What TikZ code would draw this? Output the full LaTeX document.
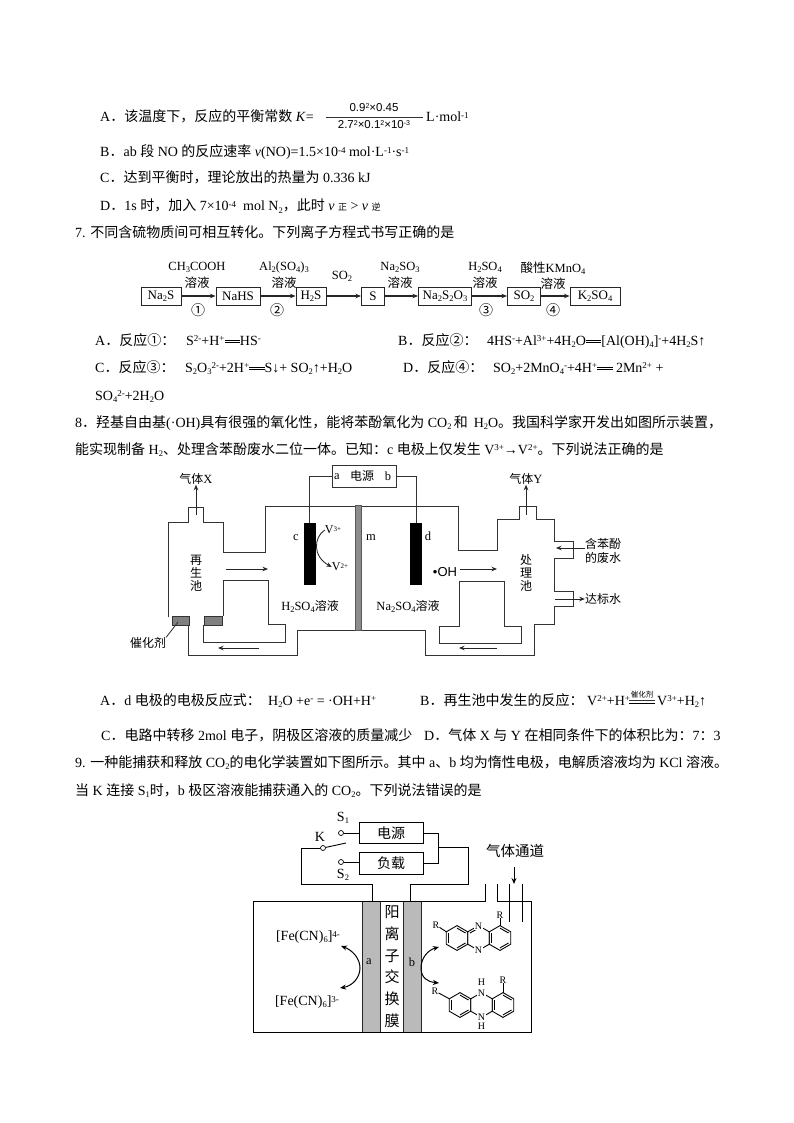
\documentclass[tikz,border=0pt]{standalone}
\usepackage{fontspec}
\setmainfont{Liberation Serif}
\newfontfamily\cjk{Noto Sans CJK SC}
\newfontfamily\ssf{Liberation Sans}
\usetikzlibrary{arrows.meta,calc}
\newcommand\up[1]{\raisebox{.5ex}{\fontsize{9}{9}\selectfont #1}}
\newcommand\dn[1]{\raisebox{-.35ex}{\fontsize{8.5}{9}\selectfont #1}}
\newcommand\zz[1]{{\cjk #1}}
\newcommand\dbl{\mbox{\rule[.16em]{1.1em}{.5pt}\llap{\rule[.34em]{1.1em}{.5pt}}}}
\newcommand\tl[4]{\node[txt] (#1) at (#2,{#3+5}) {#4};}
\newcommand\tc[4]{\node[ctr] (#1) at (#2,{#3}) {#4};}
\newcommand\hexring[2]{\draw[wireb,line join=round] ({#1+12.4*cos(30)},{#2+12.4*sin(30)}) -- ({#1+12.4*cos(90)},{#2+12.4*sin(90)}) -- ({#1+12.4*cos(150)},{#2+12.4*sin(150)}) -- ({#1+12.4*cos(210)},{#2+12.4*sin(210)}) -- ({#1+12.4*cos(270)},{#2+12.4*sin(270)}) -- ({#1+12.4*cos(330)},{#2+12.4*sin(330)}) -- cycle;}
\newcommand\inbond[3]{\draw[wireb] ({#1+9.9*cos(#3)},{#2+9.9*sin(#3)}) -- ({#1+9.9*cos(#3+60)},{#2+9.9*sin(#3+60)});}
\tikzset{
  x=1pt,y=-1pt,
  txt/.style={inner sep=0pt,anchor=base west,font=\fontsize{14}{16}\selectfont},
  ctr/.style={inner sep=0pt,anchor=center,align=center,font=\fontsize{12.5}{15}\selectfont},
  chembox/.style={draw=black!85,line width=1pt,inner sep=0pt,minimum height=18pt,font=\fontsize{13}{15}\selectfont},
  wire/.style={draw=black!80,line width=.85pt},
  wireb/.style={draw=black,line width=.9pt},
  arr/.style={draw=black!85,line width=.85pt,-{Stealth[length=5.5pt,width=4.5pt]}},
  arrb/.style={draw=black,line width=1pt,-{Stealth[length=6pt,width=5pt]}},
  membrane/.style={draw=black!65,fill=black!45,line width=.4pt},
  electrode/.style={draw=black!85,fill=black!27,line width=.8pt},
  pole/.style={fill=black,draw=black},
  cat/.style={draw=black!80,fill=black!50,line width=.8pt},
  term/.style={circle,draw=black,fill=white,inner sep=0pt,minimum size=5pt,line width=.7pt},
}
\begin{document}
\begin{tikzpicture}
\useasboundingbox (0,0) rectangle (794,1123);
\fill[white] (0,0) rectangle (794,1123);
% ---- question 6 options
\tl{a1}{100}{117}{A\zz{．该温度下，反应的平衡常数} \textit{K}=}
\node[ctr,font=\fontsize{11.5}{13}\selectfont\ssf] (num) at (374,108) {0.9\raisebox{.5ex}{\fontsize{7}{7}\selectfont 2}×0.45};
\node[ctr,font=\fontsize{11.5}{13}\selectfont\ssf] (den) at (374,125) {2.7\raisebox{.5ex}{\fontsize{7}{7}\selectfont 2}×0.1\raisebox{.5ex}{\fontsize{7}{7}\selectfont 2}×10\raisebox{.5ex}{\fontsize{7}{7}\selectfont -3}};
\draw[wire] (326,117) -- (423,117);
\tl{a1u}{426}{117}{L·mol\up{-1}}
\tl{b1}{100}{152}{B\zz{．}ab \zz{段} NO \zz{的反应速率} \textit{v}(NO)=1.5×10\up{-4} mol·L\up{-1}·s\up{-1}}
\tl{c1}{100}{178}{C\zz{．达到平衡时，理论放出的热量为} 0.336 kJ}
\tl{d1}{100}{206}{D\zz{．}1s \zz{时，加入} 7×10\up{-4}\ \ mol N\dn{2}\zz{，此时} \textit{v} \zz{\fontsize{9}{9}\selectfont 正} > \textit{v} \zz{\fontsize{9}{9}\selectfont 逆}}
\tl{q7}{75}{232}{7. \zz{不同含硫物质间可相互转化。下列离子方程式书写正确的是}}
% ---- reaction chain
\node[chembox,minimum width=40pt] (na2s) at (161,296) {Na\dn{2}S};
\node[chembox,minimum width=44pt] (nahs) at (238,296) {NaHS};
\node[chembox,minimum width=30pt] (h2s) at (311,296) {H\dn{2}S};
\node[chembox,minimum width=23pt] (s) at (373,296) {S};
\node[chembox,minimum width=53pt] (na2s2o3) at (445,296) {Na\dn{2}S\dn{2}O\dn{3}};
\node[chembox,minimum width=33pt] (so2) at (524,296) {SO\dn{2}};
\node[chembox,minimum width=50pt] (k2so4) at (595,296) {K\dn{2}SO\dn{4}};
\foreach \p/\q in {na2s/nahs,nahs/h2s,h2s/s,s/na2s2o3,na2s2o3/so2,so2/k2so4}{\draw[arr,line width=1.2pt] (\p) -- (\q);}
\tc{l1}{197}{267}{CH\dn{3}COOH}
\tc{l1b}{197}{283}{\zz{溶液}}
\tc{l2}{284}{267}{Al\dn{2}(SO\dn{4})\dn{3}}
\tc{l2b}{284}{283}{\zz{溶液}}
\tc{l3}{342}{276}{SO\dn{2}}
\tc{l4}{400}{267}{Na\dn{2}SO\dn{3}}
\tc{l4b}{400}{283}{\zz{溶液}}
\tc{l5}{485}{267}{H\dn{2}SO\dn{4}}
\tc{l5b}{485}{283}{\zz{溶液}}
\tc{l6}{553}{268}{\zz{酸性}KMnO\dn{4}}
\tc{l6b}{553}{284}{\zz{溶液}}
\tc{n1}{198}{310}{\zz{\fontsize{14}{15}\selectfont ①}}
\tc{n2}{277}{310}{\zz{\fontsize{14}{15}\selectfont ②}}
\tc{n3}{486}{310}{\zz{\fontsize{14}{15}\selectfont ③}}
\tc{n4}{553}{310}{\zz{\fontsize{14}{15}\selectfont ④}}
% ---- q7 options
\tl{a7}{95}{340}{A\zz{．反应①：}}
\tl{a7f}{186}{340}{S\up{2-}+H\up{+}\dbl HS\up{-}}
\tl{b7}{398}{340}{B\zz{．反应②：}}
\tl{b7f}{487}{340}{4HS\up{-}+Al\up{3+}+4H\dn{2}O\dbl[Al(OH)\dn{4}]\up{-}+4H\dn{2}S↑}
\tl{c7}{95}{367}{C\zz{．反应③：}}
\tl{c7f}{185}{367}{S\dn{2}O\dn{3}\up{2-}+2H\up{+}\dbl S↓+ SO\dn{2}↑+H\dn{2}O}
\tl{d7}{403}{367}{D\zz{．反应④：}}
\tl{d7f}{493}{367}{SO\dn{2}+2MnO\dn{4}\up{-}+4H\up{+}\dbl\ 2Mn\up{2+} +}
\tl{d7g}{95}{395}{SO\dn{4}\up{2-}+2H\dn{2}O}
\tl{q8}{75}{422}{8\zz{．羟基自由基}(·OH)\zz{具有很强的氧化性，能将苯酚氧化为} CO\dn{2}\,\zz{和}\, H\dn{2}O\zz{。我国科学家开发出如图所示装置，}}
\tl{q8b}{75}{449}{\zz{能实现制备} H\dn{2}\zz{、处理含苯酚废水二位一体。已知：}c \zz{电极上仅发生} V\up{3+}→V\up{2+}\zz{。下列说法正确的是}}
% ---- electrolysis apparatus
\draw[wire,line join=miter] (168,617) -- (168,522) -- (188,522) -- (188,507) -- (203,507) -- (203,522) -- (223,522) -- (223,552) -- (265,552) -- (265,506) -- (458,506) -- (458,550) -- (497,550) -- (497,519) -- (519,519) -- (519,506) -- (536,506) -- (536,519) -- (554,519) -- (554,541) -- (573,541) -- (573,558) -- (554,558) -- (554,591) -- (573,591) -- (573,606) -- (554,606) -- (554,624) -- (534,624) -- (534,655) -- (425,655) -- (425,630) -- (297,630) -- (297,655) -- (188,655) -- (188,625);
\draw[wire,line join=miter] (223,616) -- (223,580) -- (268,580) -- (268,624) -- (285,624) -- (285,642) -- (203,642) -- (203,625);
\draw[wire,line join=miter] (459,626) -- (459,581) -- (504,581) -- (504,626) -- (521,626) -- (521,643) -- (439,643) -- (439,626) -- cycle;
\draw[cat] (172,616) rectangle (189,625);
\draw[cat] (204,616) rectangle (222,625);
\draw[membrane] (355,505) rectangle (361,630);
\node[draw=black!80,line width=.85pt,minimum width=64pt,minimum height=22pt,inner sep=0pt] (pw) at (364,476) {};
\node[pole,minimum width=11pt,minimum height=61pt,inner sep=0pt] (ec) at (309.5,553.5) {};
\node[pole,minimum width=11pt,minimum height=61pt,inner sep=0pt] (ed) at (416,553.5) {};
\draw[wire] (pw.west) -| (ec.north);
\draw[wire] (pw.east) -| (ed.north);
\tc{pa}{337}{477}{a}
\tc{pt}{362}{476}{\zz{\fontsize{12}{13}\selectfont 电源}}
\tc{pb}{388}{476}{b}
\tc{lc}{296}{538}{c}
\tc{lm}{371}{538}{m}
\tc{ld}{428}{536}{d}
\node[ctr,font=\fontsize{12}{13}\selectfont] (v3) at (333,530) {V\raisebox{.5ex}{\fontsize{7}{7}\selectfont 3+}};
\node[ctr,font=\fontsize{12}{13}\selectfont] (v2) at (340,567) {V\raisebox{.5ex}{\fontsize{7}{7}\selectfont 2+}};
\draw[arr] (v3.west) .. controls (314,537) and (312,556) .. (v2.west);
\coordinate (xa) at (196,515); \coordinate (ya) at (526,515);
\tc{gx}{196}{479}{\zz{\fontsize{12}{13}\selectfont 气体}X}
\tc{gy}{526}{479}{\zz{\fontsize{12}{13}\selectfont 气体}Y}
\draw[arr] (xa) -- (gx.south);
\draw[arr] (ya) -- (gy.south);
\node[ctr,font=\fontsize{12}{13}\selectfont\cjk] (zs) at (196,573) {再\\生\\池};
\node[ctr,font=\fontsize{12}{13}\selectfont\cjk] (cl) at (526,573) {处\\理\\池};
\tc{hs}{310}{606}{H\dn{2}SO\dn{4}\zz{\fontsize{12}{13}\selectfont 溶液}}
\tc{nas}{408}{606}{Na\dn{2}SO\dn{4}\zz{\fontsize{12}{13}\selectfont 溶液}}
\node[ctr,font=\fontsize{12}{13}\selectfont\cjk] (ch) at (148,643) {催化剂};
\coordinate (catp) at (178,622);
\draw[wire] (ch.north east) -- (catp);
\node[ctr,font=\fontsize{12}{14}\selectfont\cjk] (fs) at (603,551) {含苯酚\\的废水};
\node[ctr,font=\fontsize{12}{13}\selectfont\cjk] (db) at (603,599) {达标水};
\coordinate (fi) at (556,548); \coordinate (do) at (555,599);
\draw[arr] (fs.west |- fi) -- (fi);
\draw[arr] (do) -- (db.west);
\node[ctr,font=\fontsize{13}{15}\selectfont\ssf] (oh) at (445,572) {•OH};
\coordinate (f1a) at (226,569); \coordinate (f1b) at (268,569);
\coordinate (f2b) at (497,569);
\coordinate (f3a) at (259,648); \coordinate (f3b) at (218,648);
\coordinate (f4a) at (497,648); \coordinate (f4b) at (459,648);
\draw[arr] (f1a) -- (f1b);
\draw[arr] (oh.east) ++(3,-3) -- (f2b);
\draw[arr] (f3a) -- (f3b);
\draw[arr] (f4a) -- (f4b);
% ---- q8 options
\tl{a8}{100}{700}{A\zz{．}d \zz{电极的电极反应式：}}
\tl{a8f}{268}{700}{H\dn{2}O +e\up{-} = ·OH+H\up{+}}
\tl{b8}{420}{700}{B\zz{．再生池中发生的反应：}}
\tl{b8f}{587}{700}{V\up{2+}+H\up{+}}
\node[ctr,font=\fontsize{7.5}{8}\selectfont\cjk] (cj) at (642,695) {催化剂};
\node[inner sep=0pt,anchor=center] (ceq) at (642,703) {\rule{26pt}{.5pt}};
\draw[wire,line width=.5pt] (629,700.5) -- (655,700.5);
\tl{b8g}{657}{700}{V\up{3+}+H\dn{2}↑}
\tl{c8}{101}{735}{C\zz{．电路中转移} 2mol \zz{电子，阴极区溶液的质量减少}}
\tl{d8}{424}{735}{D\zz{．气体} X \zz{与} Y \zz{在相同条件下的体积比为：}7\zz{：}3}
\tl{q9}{75}{762}{9. \zz{一种能捕获和释放} CO\dn{2}\zz{的电化学装置如下图所示。其中} a\zz{、}b \zz{均为惰性电极，电解质溶液均为} KCl \zz{溶液。}}
\tl{q9b}{75}{790}{\zz{当} K \zz{连接} S\dn{1}\zz{时，}b \zz{极区溶液能捕获通入的} CO\dn{2}\zz{。下列说法错误的是}}
% ---- CO2 device
\node[draw=black,line width=.9pt,minimum width=64pt,minimum height=21pt,inner sep=0pt,font=\fontsize{14}{15}\selectfont\cjk] (dy) at (391,833) {电源};
\node[draw=black,line width=.9pt,minimum width=64pt,minimum height=22pt,inner sep=0pt,font=\fontsize{14}{15}\selectfont\cjk] (fz) at (391,863) {负载};
\node[term] (s1) at (341,833) {};
\node[term] (s2) at (341,862) {};
\node[term] (k) at (323,848) {};
\node[ctr,font=\fontsize{14}{15}\selectfont] (ls1) at (343,818) {S\dn{1}};
\node[ctr,font=\fontsize{14}{15}\selectfont] (ls2) at (343,875) {S\dn{2}};
\node[ctr,font=\fontsize{14}{15}\selectfont] (lk) at (320,837) {K};
\draw[wireb] (s1) -- (dy.west |- s1);
\draw[wireb] (s2) -- (fz.west |- s2);
\coordinate (blade) at (346,843);
\draw[wireb] (k) -- (blade);
% tank
\draw[electrode] (362,901) rectangle (380,1032);
\draw[electrode] (403,901) rectangle (421,1032);
\draw[wireb,line join=miter] (485,884) -- (485,901) -- (253,901) -- (253,1032) -- (531,1032) -- (531,901) -- (497,901) -- (497,884);
\draw[wireb] (509,884) -- (509,922);
\draw[wireb] (522,884) -- (522,922);
\coordinate (ta) at (372,901); \coordinate (tb) at (410,901);
\draw[wireb] (k) -| (301,884) -| (ta);
\draw[wireb] (dy.east) -| (438,863) -- (fz.east |- 438,863);
\draw[wireb] (438,847) -| (468,884) -| (tb);
\tc{gt}{515}{851}{\zz{\fontsize{14.5}{15}\selectfont 气体通道}}
\coordinate (gte) at (514,884);
\draw[arrb] (514,867) -- (gte);
\node[ctr,font=\fontsize{15}{21.8}\selectfont\cjk] (ms) at (392,966.5) {阳\\离\\子\\交\\换\\膜};
\tc{la}{369}{962}{a}
\tc{lb}{412}{962}{b}
\tc{fe4}{308}{937}{{\fontsize{14}{15}\selectfont [Fe(CN)\dn{6}]}\up{4-}}
\tc{fe3}{307}{1002}{{\fontsize{14}{15}\selectfont [Fe(CN)\dn{6}]}\up{3-}}
\draw[arrb] (360,968) .. controls (360,958) and (352,950) .. (341,946);
\draw[arrb] (360,968) .. controls (360,978) and (352,986) .. (340,988);
\draw[arrb] (421,968) .. controls (421,958) and (428,950) .. (439,947);
\draw[arrb] (421,968) .. controls (421,978) and (428,982) .. (439,983);
% top molecule
\hexring{457}{938}\hexring{478.5}{938}\hexring{500}{938}
\inbond{457}{938}{150}\inbond{457}{938}{270}\inbond{457}{938}{30}
\inbond{500}{938}{150}\inbond{500}{938}{270}\inbond{500}{938}{30}
\inbond{478.5}{938}{210}
\node[fill=white,inner sep=.4pt,font=\fontsize{10}{10}\selectfont] (n1t) at (478.5,926) {N};
\node[fill=white,inner sep=.4pt,font=\fontsize{10}{10}\selectfont] (n1b) at (478.5,950) {N};
\node[inner sep=0pt,font=\fontsize{10}{10}\selectfont] (r1) at (500,915) {R};
\node[inner sep=0pt,font=\fontsize{10}{10}\selectfont] (r2) at (436,925) {R};
\draw[wireb] (r1) -- (500,925.6);
\draw[wireb] (r2) -- (446.3,931.8);
% bottom molecule
\hexring{460}{1005}\hexring{481.5}{1005}\hexring{503}{1005}
\inbond{460}{1005}{150}\inbond{460}{1005}{270}\inbond{460}{1005}{30}
\inbond{503}{1005}{150}\inbond{503}{1005}{270}\inbond{503}{1005}{30}
\node[fill=white,inner sep=.4pt,font=\fontsize{10}{10}\selectfont] (n2t) at (481.5,993) {N};
\node[fill=white,inner sep=.4pt,font=\fontsize{10}{10}\selectfont] (n2b) at (481.5,1017) {N};
\node[inner sep=0pt,font=\fontsize{10}{10}\selectfont] (h1) at (481.5,982) {H};
\node[inner sep=0pt,font=\fontsize{10}{10}\selectfont] (h2) at (481.5,1026) {H};
\node[inner sep=0pt,font=\fontsize{10}{10}\selectfont] (r3) at (503,980) {R};
\node[inner sep=0pt,font=\fontsize{10}{10}\selectfont] (r4) at (435,991) {R};
\draw[wireb] (r3) -- (503,992.6);
\draw[wireb] (r4) -- (449.3,998.8);
\end{tikzpicture}
\end{document}
